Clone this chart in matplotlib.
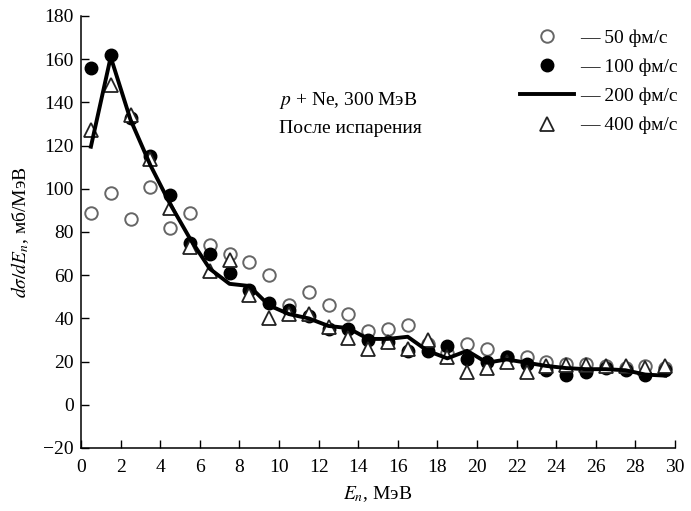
import matplotlib
matplotlib.use("Agg")
import matplotlib.pyplot as plt
import numpy as np

plt.rcParams['font.family'] = ['Liberation Serif', 'DejaVu Serif']
plt.rcParams['mathtext.fontset'] = 'stix'

energy = [0.5, 1.5, 2.5, 3.5, 4.5, 5.5, 6.5, 7.5, 8.5, 9.5,
          10.5, 11.5, 12.5, 13.5, 14.5, 15.5, 16.5, 17.5, 18.5, 19.5,
          20.5, 21.5, 22.5, 23.5, 24.5, 25.5, 26.5, 27.5, 28.5, 29.5]

t50 = [89, 98, 86, 101, 82, 89, 74, 70, 66, 60,
       46, 52, 46, 42, 34, 35, 37, 28, 24, 28,
       26, 22, 22, 20, 19, 19, 18, 17, 18, 17]

t100 = [156, 162, 133, 115, 97, 75, 70, 61, 53, 47,
        44, 41, 35, 35, 30, 29, 25, 25, 27, 21,
        20, 22, 19, 16, 14, 15, 17, 16, 14, 16]

t200 = [119.5, 161, 132, 111, 93, 77, 63, 56, 55, 46,
        42, 40, 36.5, 35.5, 30.5, 30.5, 31.5, 25, 21.5, 25,
        19.5, 21, 19.5, 18, 17, 16.5, 16.5, 16, 14, 13.5]

t400 = [127, 148, 134, 114, 91, 73, 62, 67, 51, 40,
        42, 42, 36, 31, 26, 29, 26, 30, 22, 15,
        17, 20, 15, 18, 18.5, 18.5, 18, 18, 17, 18]

labels = ["— 50 фм/с", "— 100 фм/с", "— 200 фм/с", "— 400 фм/с"]

fig = plt.figure(figsize=(6.91, 5.11), dpi=100)
ax = fig.add_axes([81/691, 1 - 448/511, (675-81)/691, (448-16)/511])

h1, = ax.plot(energy, t50, 'o', ms=9, mfc='white', mec='#666666', mew=1.4, ls='none', zorder=2)
h2, = ax.plot(energy, t100, 'o', ms=9, mfc='black', mec='black', ls='none', zorder=3)
h4, = ax.plot(energy, t400, '^', ms=10.5, mfc='white', mec='#222222', mew=1.3, ls='none', zorder=4)
h3, = ax.plot(energy, t200, '-', color='black', lw=2.8, zorder=5)

ax.set_xlim(0, 30)
ax.set_ylim(-20, 180)
ax.set_xticks(np.arange(0, 31, 2))
ax.set_yticks(np.arange(-20, 181, 20))
ax.spines['top'].set_visible(False)
ax.spines['right'].set_visible(False)
ax.tick_params(direction='in', length=6, width=1, labelsize=14)
ax.tick_params(axis='x', pad=8)
ax.tick_params(axis='y', pad=5)
for s in ax.spines.values():
    s.set_linewidth(1.1)

ax.set_xlabel("$E_n$, МэВ", fontsize=14, labelpad=6)
ax.set_ylabel("$d\\sigma/dE_n$, мб/МэВ", fontsize=14, labelpad=9)

ax.text(10.0, 141, "$p$ + Ne, 300 МэВ", fontsize=14, va='center', ha='left')
ax.text(10.0, 128, "После испарения", fontsize=14, va='center', ha='left')

leg = fig.legend([h1, h2, h3, h4], labels, loc='upper left',
                 bbox_to_anchor=(520/691, 1 - 29/511), frameon=False,
                 fontsize=14, handlelength=2.8, handletextpad=0.3,
                 labelspacing=0.6, borderpad=0, borderaxespad=0)

fig.savefig("out.png", dpi=100)
